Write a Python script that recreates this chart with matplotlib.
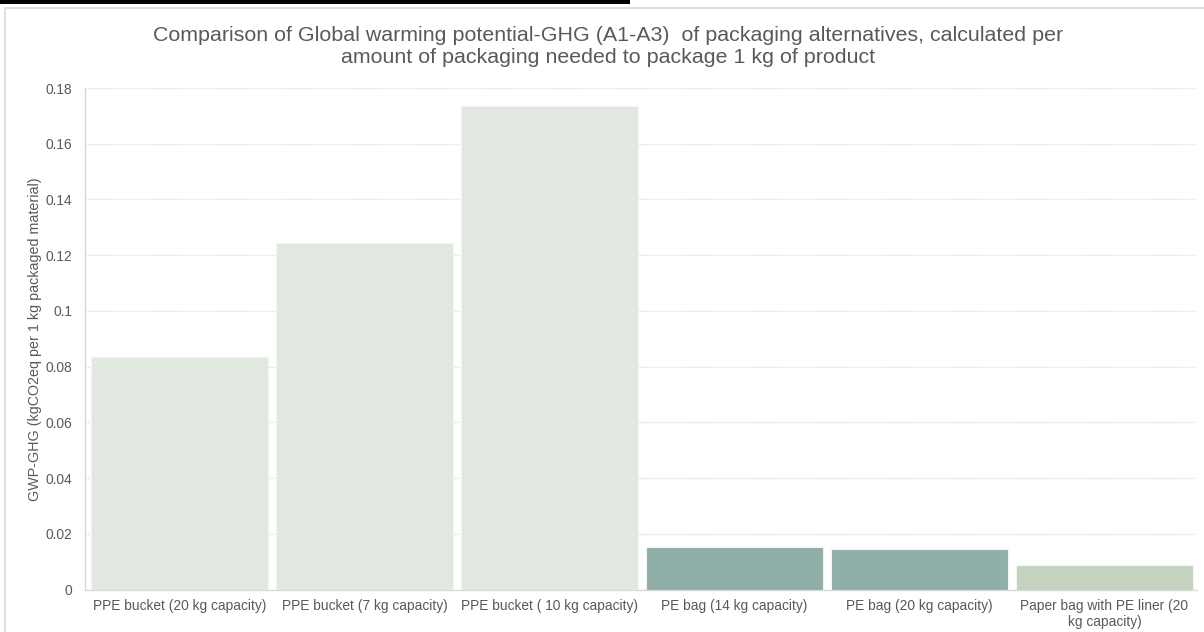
import matplotlib
matplotlib.use("Agg")
import matplotlib.pyplot as plt
from matplotlib.patches import Rectangle

plt.rcParams['font.family'] = ['Liberation Sans', 'DejaVu Sans']

categories = [
    "PPE bucket (20 kg capacity)",
    "PPE bucket (7 kg capacity)",
    "PPE bucket ( 10 kg capacity)",
    "PE bag (14 kg capacity)",
    "PE bag (20 kg capacity)",
    "Paper bag with PE liner (20\nkg capacity)",
]
values = [0.0835, 0.1243, 0.1734, 0.0152, 0.0147, 0.0087]
bar_colors = ["#e0e8df", "#e0e8df", "#e0e8df", "#8fafa8", "#8fafa8", "#c4d3c0"]
yticks = [0, 0.02, 0.04, 0.06, 0.08, 0.1, 0.12, 0.14, 0.16, 0.18]
ytick_labels = ["0", "0.02", "0.04", "0.06", "0.08", "0.1", "0.12", "0.14", "0.16", "0.18"]
title = ("Comparison of Global warming potential-GHG (A1-A3)  of packaging alternatives, calculated per\n"
         "amount of packaging needed to package 1 kg of product")
ylabel = "GWP-GHG (kgCO2eq per 1 kg packaged material)"

W, H = 1204, 632
fig = plt.figure(figsize=(W / 100, H / 100), dpi=100)
fig.patch.set_facecolor("white")

# outer frame and top black band
fig.patches.append(Rectangle((5 / W, -0.1), 1.2, 1.1 - 8 / H, transform=fig.transFigure,
                             fill=False, edgecolor="#d9d9d9", linewidth=1.2, zorder=0))
fig.patches.append(Rectangle((0, 1 - 3.5 / H), 630 / W, 3.5 / H, transform=fig.transFigure,
                             facecolor="black", edgecolor="none", zorder=1))

left, right = 85 / W, 1197 / W
bottom, top = 1 - 589.5 / H, 1 - 88 / H
ax = fig.add_axes([left, bottom, right - left, top - bottom])

x = list(range(len(categories)))
ax.bar(x, values, width=0.955, color=bar_colors, edgecolor="#f3f5f2", linewidth=0.8, zorder=3)

ax.set_xlim(-0.51, 5.5)
ax.set_ylim(0, 0.18)
ax.set_yticks(yticks)
ax.set_yticklabels(ytick_labels)
ax.set_xticks(x)
ax.set_xticklabels(categories)
ax.tick_params(axis="both", length=0, labelsize=9.9, colors="#595959")
ax.tick_params(axis="y", pad=9)
ax.tick_params(axis="x", pad=7)

ax.grid(axis="y", linestyle=(0, (1, 1)), color="#dcdcdc", linewidth=1.0, zorder=0)
ax.set_axisbelow(True)
for s in ["top", "right"]:
    ax.spines[s].set_visible(False)
ax.spines["left"].set_color("#d9d9d9")
ax.spines["bottom"].set_color("#d9d9d9")
ax.spines["left"].set_linewidth(1.0)
ax.spines["bottom"].set_linewidth(1.0)

ax.set_ylabel(ylabel, fontsize=10.3, color="#595959")
ax.yaxis.set_label_coords(-43 / (1197 - 85), 0.5)

fig.text(608 / W, 1 - 46.5 / H, title, ha="center", va="center", fontsize=15.4,
         color="#595959", linespacing=1.25)

fig.savefig("out.png", dpi=100, facecolor="white")
